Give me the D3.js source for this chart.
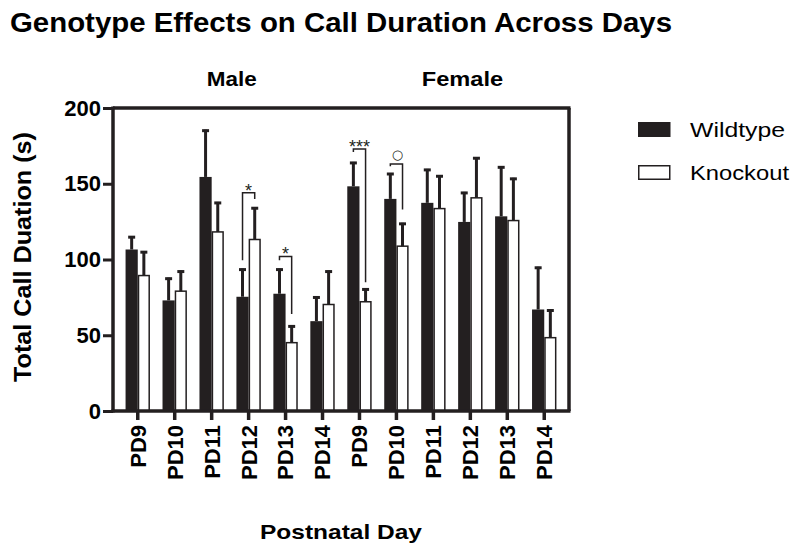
<!DOCTYPE html>
<html>
<head>
<meta charset="utf-8">
<script src="https://cdn.jsdelivr.net/npm/d3@7"></script>
<style>
  body { margin: 0; background: #fff; }
  svg { display: block; font-family: "Liberation Sans", Arial, sans-serif; }
</style>
</head>
<body>
<div id="chart"></div>
<script>
// data
const days = ["PD9", "PD10", "PD11", "PD12", "PD13", "PD14"];
const sexes = ["Male", "Female"];
const genotypes = ["Wildtype", "Knockout"];
const wildtypeMean = [106.6, 73, 154.5, 75.4, 77.4, 59.3, 148.3, 140, 137.4, 124.8, 128.5, 67];
const wildtypeErr = [8.8, 15, 31.2, 18.6, 16.6, 16.3, 16.1, 17.1, 22.4, 19.8, 33, 28.2];
const knockoutMean = [89.4, 79.1, 118.2, 113.2, 45.1, 70.3, 72.1, 108.8, 133.6, 140.7, 125.7, 48.4];
const knockoutErr = [16.1, 13.6, 19.8, 21.3, 11.4, 22.4, 8.8, 15.4, 22, 26.8, 28.2, 18.6];
const yTicks = [0, 50, 100, 150, 200];

// significance brackets (category index, label, bracket top, left/right drop ends)
const sigIndex = [3, 4, 6, 7];
const sigLabels = ["*", "*", "***", "○"];
const sigTop = [144, 102, 173, 163];
const sigLeftEnd = [99.5, 99.5, 171, 161.5];
const sigRightEnd = [140, 64, 85, 133];

const dark = "#231f20";
const W = 800, H = 555;
const plotL = 113, plotR = 569, plotT = 108, plotB = 411;

const svg = d3.select("#chart").append("svg")
  .attr("width", W).attr("height", H);

// categories: one per sex/day
const cats = [];
sexes.forEach(s => days.forEach(d => cats.push(s + "-" + d)));
const rows = cats.map((c, i) => ({
  key: c, day: c.split("-")[1],
  vals: [
    { g: "Wildtype", v: wildtypeMean[i], e: wildtypeErr[i] },
    { g: "Knockout", v: knockoutMean[i], e: knockoutErr[i] }
  ]
}));

const x = d3.scaleBand().domain(cats).range([plotL, plotR]).padding(0.34);
const xSub = d3.scaleBand().domain(genotypes).range([0, x.bandwidth()]);
const y = d3.scaleLinear().domain([0, 200]).range([plotB, plotT]);

// title
svg.append("text")
  .attr("x", 10).attr("y", 32)
  .attr("font-size", 27).attr("font-weight", "bold")
  .attr("textLength", 662).attr("lengthAdjust", "spacingAndGlyphs")
  .text("Genotype Effects on Call Duration Across Days");

// group labels
svg.append("text").attr("x", 231.7).attr("y", 86)
  .attr("text-anchor", "middle").attr("font-size", 20.5).attr("font-weight", "bold")
  .attr("textLength", 50).attr("lengthAdjust", "spacingAndGlyphs")
  .text("Male");
svg.append("text").attr("x", 462.5).attr("y", 86)
  .attr("text-anchor", "middle").attr("font-size", 20.5).attr("font-weight", "bold")
  .attr("textLength", 81.5).attr("lengthAdjust", "spacingAndGlyphs")
  .text("Female");

// bars
const groups = svg.selectAll(".grp").data(rows).enter().append("g")
  .attr("class", "grp")
  .attr("transform", d => `translate(${x(d.key)},0)`);

groups.selectAll("rect").data(d => d.vals).enter().append("rect")
  .attr("x", d => xSub(d.g) + (d.g === "Knockout" ? 0.75 : 0))
  .attr("y", d => y(d.v))
  .attr("width", d => xSub.bandwidth() - (d.g === "Knockout" ? 1.5 : 0))
  .attr("height", d => y(0) - y(d.v))
  .attr("fill", d => d.g === "Wildtype" ? dark : "#fff")
  .attr("stroke", dark)
  .attr("stroke-width", d => d.g === "Wildtype" ? 0 : 1.5);

// error bars (upper only)
groups.selectAll(".err").data(d => d.vals).enter().append("line")
  .attr("class", "err")
  .attr("x1", d => xSub(d.g) + xSub.bandwidth() / 2)
  .attr("x2", d => xSub(d.g) + xSub.bandwidth() / 2)
  .attr("y1", d => y(d.v))
  .attr("y2", d => y(d.v + d.e))
  .attr("stroke", dark).attr("stroke-width", 3);

groups.selectAll(".cap").data(d => d.vals).enter().append("line")
  .attr("class", "cap")
  .attr("x1", d => xSub(d.g) + xSub.bandwidth() / 2 - 3.5)
  .attr("x2", d => xSub(d.g) + xSub.bandwidth() / 2 + 3.5)
  .attr("y1", d => y(d.v + d.e) + 1)
  .attr("y2", d => y(d.v + d.e) + 1)
  .attr("stroke", dark).attr("stroke-width", 3);

// frame: top and right
svg.append("line").attr("x1", plotL).attr("x2", plotR + 1.5)
  .attr("y1", plotT).attr("y2", plotT)
  .attr("stroke", dark).attr("stroke-width", 3.5);
svg.append("line").attr("x1", plotR).attr("x2", plotR)
  .attr("y1", plotT).attr("y2", plotB)
  .attr("stroke", dark).attr("stroke-width", 3.5);

// y axis
const yAxis = svg.append("g")
  .attr("transform", `translate(${plotL},0)`)
  .call(d3.axisLeft(y).tickValues(yTicks).tickSize(10).tickPadding(2));
yAxis.select(".domain").attr("stroke", dark).attr("stroke-width", 3.5)
  .attr("d", `M0,${plotT - 1.5}V${plotB + 1.5}`);
yAxis.selectAll(".tick line").attr("stroke", dark).attr("stroke-width", 3);
yAxis.selectAll(".tick text")
  .attr("font-family", "Liberation Sans, Arial, sans-serif")
  .attr("font-size", 22).attr("font-weight", "bold").attr("fill", "#000");

// x axis
const xAxis = svg.append("g")
  .attr("transform", `translate(0,${plotB})`)
  .call(d3.axisBottom(x).tickSize(9).tickFormat(k => k.split("-")[1]));
xAxis.select(".domain").attr("stroke", dark).attr("stroke-width", 3.5)
  .attr("d", `M${plotL - 1.5},0H${plotR + 1.5}`);
xAxis.selectAll(".tick line").attr("stroke", dark).attr("stroke-width", 3.5);
xAxis.selectAll(".tick text")
  .attr("font-family", "Liberation Sans, Arial, sans-serif")
  .attr("font-size", 22).attr("font-weight", "bold").attr("fill", "#000")
  .attr("text-anchor", "end")
  .attr("transform", "rotate(-90)")
  .attr("x", -14).attr("y", 0).attr("dy", "0.36em");

// significance brackets
sigIndex.forEach((ci, i) => {
  const c = cats[ci];
  const xl = x(c) + xSub("Wildtype") + xSub.bandwidth() / 2;
  const xr = x(c) + xSub("Knockout") + xSub.bandwidth() / 2;
  svg.append("path")
    .attr("d", `M${xl},${y(sigLeftEnd[i])}V${y(sigTop[i])}H${xr}V${y(sigRightEnd[i])}`)
    .attr("fill", "none").attr("stroke", dark).attr("stroke-width", 1.5);
  const isCircle = sigLabels[i] === "○";
  svg.append("text")
    .attr("x", (xl + xr) / 2 + (isCircle ? 1 : 0))
    .attr("y", isCircle ? y(sigTop[i]) - 10 : y(sigTop[i]) + 4)
    .attr("text-anchor", "middle")
    .attr("dominant-baseline", isCircle ? "central" : "auto")
    .attr("font-family", isCircle ? "DejaVu Sans, sans-serif" : "Liberation Sans, Arial, sans-serif")
    .attr("font-size", isCircle ? 13 : 18)
    .attr("fill", dark)
    .text(sigLabels[i]);
});

// axis titles
svg.append("text")
  .attr("transform", "translate(31,257) rotate(-90)")
  .attr("text-anchor", "middle")
  .attr("font-size", 24).attr("font-weight", "bold")
  .attr("textLength", 250).attr("lengthAdjust", "spacingAndGlyphs")
  .text("Total Call Duation (s)");

svg.append("text")
  .attr("x", 341).attr("y", 539)
  .attr("text-anchor", "middle")
  .attr("font-size", 21).attr("font-weight", "bold")
  .attr("textLength", 162).attr("lengthAdjust", "spacingAndGlyphs")
  .text("Postnatal Day");

// legend
const legend = svg.append("g").attr("transform", "translate(638,122)");
genotypes.forEach((g, i) => {
  legend.append("rect")
    .attr("x", 0.75).attr("y", i * 43 + 0.75)
    .attr("width", 31).attr("height", 13.5)
    .attr("fill", g === "Wildtype" ? dark : "#fff")
    .attr("stroke", dark).attr("stroke-width", 1.5);
  legend.append("text")
    .attr("x", 52).attr("y", i * 43 + 14.5)
    .attr("font-size", 21)
    .attr("textLength", g === "Wildtype" ? 95 : 99).attr("lengthAdjust", "spacingAndGlyphs")
    .text(g);
});
</script>
</body>
</html>
